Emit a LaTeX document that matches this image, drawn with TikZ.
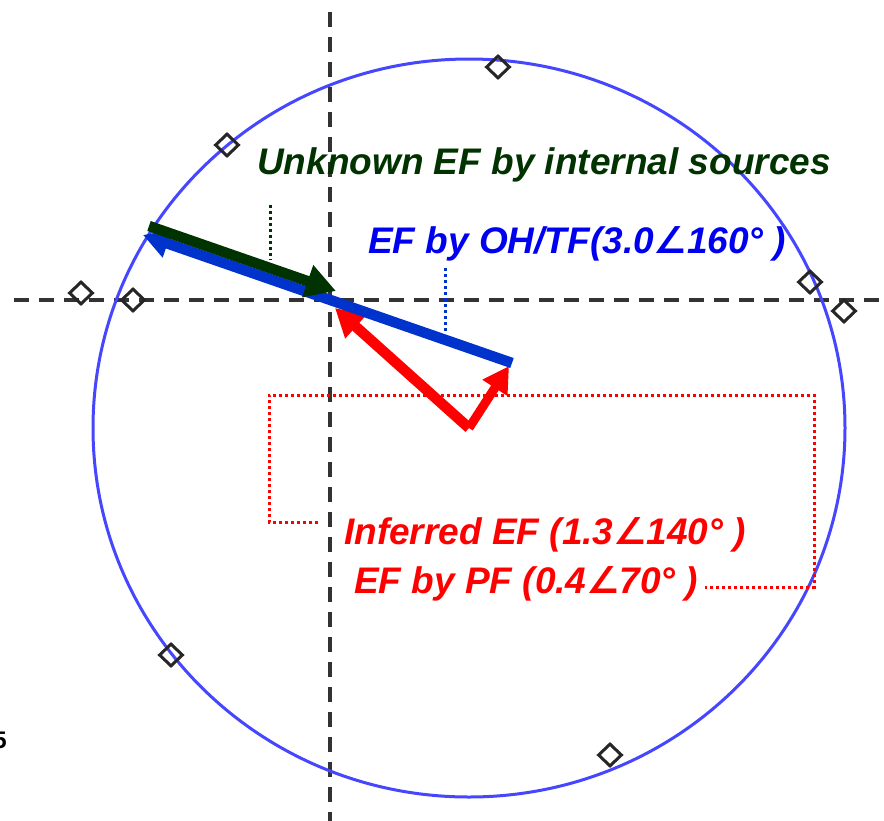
\documentclass[tikz,border=0pt]{standalone}
\usepackage{fontspec}
\setmainfont{Liberation Sans}
\newfontfamily\angfont{DejaVu Sans}
\usetikzlibrary{arrows.meta,shapes.geometric}

\definecolor{cblue}{RGB}{0,51,204}
\definecolor{tblue}{RGB}{0,0,240}
\definecolor{cgreen}{RGB}{0,51,0}
\definecolor{cred}{RGB}{255,0,0}
\definecolor{ccirc}{RGB}{70,70,255}
\definecolor{caxis}{RGB}{51,51,51}

\newcommand{\angsym}{{\angfont\itshape ∠}}

\begin{document}
\begin{tikzpicture}[x=1pt,y=-1pt,
  axis/.style={draw=caxis, line width=3.5pt, dash pattern=on 15pt off 10pt},
  marker/.style={diamond, draw=black!85, line width=3pt, minimum width=24pt, minimum height=23pt, inner sep=0pt},
  lbl/.style={font=\fontsize{37}{40}\selectfont\bfseries\itshape, inner sep=0pt, anchor=base west},
  leader/.style={line width=3pt, dash pattern=on 3pt off 3pt},
  vec/.style={line width=10.5pt}]
\useasboundingbox (0,0) rectangle (884,820);
\fill[white] (0,0) rectangle (884,820);

% axes
\coordinate (vtop) at (330,12);
\coordinate (vbot) at (330,822);
\coordinate (hl) at (14,300);
\coordinate (hr) at (886,300);
\draw[axis] (vtop) -- (vbot);
\draw[axis] (hl) -- (hr);

% circle
\node[ellipse, draw=ccirc, line width=3pt, minimum width=752pt, minimum height=738pt, inner sep=0pt] (circ) at (469,428) {};

% markers
\node[marker] (m1) at (498,67) {};
\node[marker] (m2) at (227,145) {};
\node[marker] (m3) at (81,293) {};
\node[marker] (m4) at (133,300) {};
\node[marker] (m5) at (810,282) {};
\node[marker] (m6) at (844,311) {};
\node[marker] (m7) at (171,655) {};
\node[marker] (m8) at (610,755) {};

% vectors
\coordinate (O) at (469,428);
\coordinate (inf) at (335,308);
\coordinate (pf) at (509,366);
\coordinate (bt) at (512,363);
\coordinate (bh) at (143,235);
\coordinate (gt) at (149,226);
\coordinate (gh) at (336,291);
\draw[vec, cred, -{Triangle[length=28pt,width=30pt]}] (O) -- (inf);
\draw[vec, cred, line width=9pt, -{Triangle[length=26pt,width=28pt]}] (O) -- (pf);
\draw[vec, cblue, -{Triangle[length=26pt,width=28pt]}] (bt) -- (bh);
\draw[vec, cgreen, -{Triangle[length=30pt,width=32pt]}] (gt) -- (gh);

% leaders
\coordinate (g1) at (270,205);
\coordinate (g2) at (270,260);
\draw[leader, cgreen] (g1) -- (g2);
\coordinate (b1) at (445,268);
\coordinate (b2) at (445,332);
\draw[leader, cblue] (b1) -- (b2);
\coordinate (r1) at (318,522);
\coordinate (r2) at (269,522);
\coordinate (r3) at (269,395);
\coordinate (r4) at (814,395);
\coordinate (r5) at (814,587);
\coordinate (r6) at (705,587);
\draw[leader, cred] (r1) -- (r2) -- (r3) -- (r4) -- (r5) -- (r6);

% labels
\node[lbl, text=cgreen] (tg) at (257,174) {Unknown EF by internal sources};
\node[lbl, text=tblue] (tb) at (368,253) {EF by OH/TF(3.0\angsym160° )};
\node[lbl, text=cred] (tr1) at (344,544) {Inferred EF (1.3\angsym140° )};
\node[lbl, text=cred] (tr2) at (354,593) {EF by PF (0.4\angsym70° )};
\node[anchor=base east, inner sep=0pt, font=\fontsize{24}{26}\selectfont\bfseries] (five) at (7,748) {5};
\end{tikzpicture}
\end{document}
